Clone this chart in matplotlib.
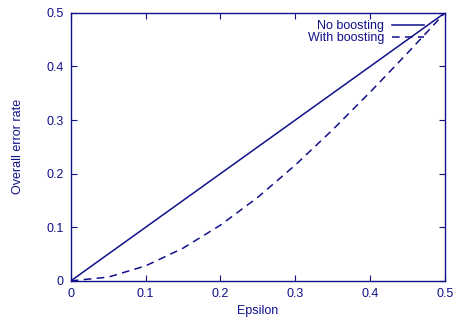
import matplotlib
matplotlib.use("Agg")
import matplotlib.pyplot as plt

# -----------------------------
# Data
# -----------------------------
epsilon = [0.0, 0.05, 0.1, 0.15, 0.2, 0.25, 0.3, 0.35, 0.4, 0.45, 0.5]
no_boosting = [0.0, 0.05, 0.1, 0.15, 0.2, 0.25, 0.3, 0.35, 0.4, 0.45, 0.5]
with_boosting = [0.0, 0.007, 0.028, 0.061, 0.104, 0.156, 0.216, 0.282, 0.352, 0.425, 0.5]

x_ticks = [0, 0.1, 0.2, 0.3, 0.4, 0.5]
y_ticks = [0, 0.1, 0.2, 0.3, 0.4, 0.5]
tick_labels = ["0", "0.1", "0.2", "0.3", "0.4", "0.5"]

NAVY = "#10108a"

plt.rcParams["font.family"] = ["Liberation Sans", "DejaVu Sans"]
plt.rcParams["font.size"] = 9

fig = plt.figure(figsize=(4.54, 3.21), dpi=100)
ax = fig.add_axes([0.156, 0.125, 0.824, 0.835])

ax.plot(epsilon, no_boosting, color=NAVY, lw=1.1, label="No boosting")
ax.plot(epsilon, with_boosting, color=NAVY, lw=1.1, dashes=(5, 3.5), label="With boosting")

ax.set_xlim(0, 0.5)
ax.set_ylim(0, 0.5)
ax.set_xticks(x_ticks)
ax.set_xticklabels(tick_labels)
ax.set_yticks(y_ticks)
ax.set_yticklabels(tick_labels)
ax.tick_params(direction="in", top=True, right=True, length=4, width=0.8,
               colors=NAVY, labelcolor=NAVY, pad=5)
for s in ax.spines.values():
    s.set_color(NAVY)
    s.set_linewidth(1.0)

ax.set_xlabel("Epsilon", color=NAVY, labelpad=4)
ax.set_ylabel("Overall error rate", color=NAVY, labelpad=16)

leg = ax.legend(loc="upper right", frameon=False, markerfirst=False,
                handlelength=2.6, handletextpad=0.6, labelspacing=0.0,
                borderaxespad=0.2, bbox_to_anchor=(0.965, 1.0))
for t in leg.get_texts():
    t.set_color(NAVY)

fig.savefig("out.png", dpi=100)
